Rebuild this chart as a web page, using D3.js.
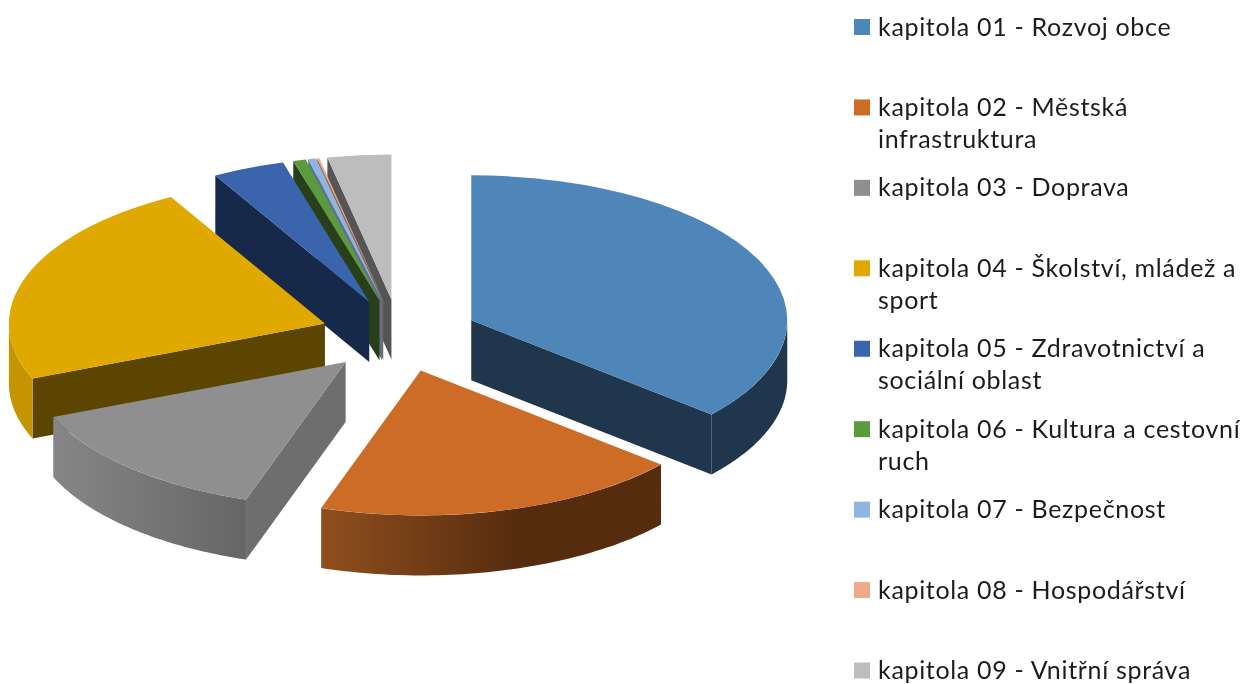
<!DOCTYPE html>
<html>
<head>
<meta charset="utf-8">
<script src="https://cdn.jsdelivr.net/npm/d3@7"></script>
<style>
  html, body { margin: 0; padding: 0; background: #fff; overflow: hidden; }
  svg { display: block; filter: blur(0.4px); }
  text { font-family: Lato, sans-serif; font-size: 25px; fill: #1c1c1c; letter-spacing: 0.68px; }
</style>
</head>
<body>
<svg id="chart" width="1243" height="684"></svg>
<script>
const categories = [
    ["kapitola 01 - Rozvoj obce"],
    ["kapitola 02 - Městská", "infrastruktura"],
    ["kapitola 03 - Doprava"],
    ["kapitola 04 - Školství, mládež a", "sport"],
    ["kapitola 05 - Zdravotnictví a", "sociální oblast"],
    ["kapitola 06 - Kultura a cestovní", "ruch"],
    ["kapitola 07 - Bezpečnost"],
    ["kapitola 08 - Hospodářství"],
    ["kapitola 09 - Vnitřní správa"]
];
const values = [36.25, 18.85, 13.7, 23.1, 3.7, 0.65, 0.4, 0.1, 3.25];

const topColors = ["#4e86ba", "#cd6c27", "#8f8f8f", "#dfa900", "#3a64ab", "#5b9b3e", "#8fb5e2", "#f2a98a", "#bdbdbd"];
const faceColors = ["#1f364d", "#562c0f", "#6e6e6e", "#5c4500", "#16294a", "#27401a", "#5a7390", "#8a5f4c", "#555555"];
// left and right shade of the outer wall
const wallLeft = ["#1f364d", "#8f4f1e", "#868686", "#c49500", "#16294a", "#27401a", "#5a7390", "#8a5f4c", "#555555"];
const wallRight = ["#1f364d", "#562c0f", "#666666", "#c49500", "#16294a", "#27401a", "#5a7390", "#8a5f4c", "#555555"];

// back to front
const drawOrder = [8, 7, 6, 5, 4, 3, 0, 2, 1];

const svg = d3.select("#chart");
const defs = svg.append("defs");

// Pie geometry
const CX = 399.5, CY = 335.5, RX = 316, RY = 145, DEPTH = 60, EXPLODE = 0.25;

const pie = d3.pie().sort(null).value(d => d);
const arcs = pie(values);

const px = (a, r) => RX * r * Math.sin(a);
const py = (a, r) => -RY * r * Math.cos(a);

const topArc = d3.arc().innerRadius(0).outerRadius(RX);
const line = d3.line();

const g = svg.append("g");

drawOrder.forEach(i => {
    const d = arcs[i];
    const mid = (d.startAngle + d.endAngle) / 2;
    const ax = CX + px(mid, EXPLODE);
    const ay = CY + py(mid, EXPLODE);
    const slice = g.append("g").attr("transform", `translate(${ax},${ay})`);

    const face = a => line([
        [0, 0],
        [px(a, 1), py(a, 1)],
        [px(a, 1), py(a, 1) + DEPTH],
        [0, DEPTH]
    ]) + "Z";

    // Radial side faces, only the ones turned toward the viewer
    if (Math.sin(d.startAngle) < 0) {
        slice.append("path").attr("d", face(d.startAngle)).attr("fill", faceColors[i]);
    }
    if (Math.sin(d.endAngle) > 0) {
        slice.append("path").attr("d", face(d.endAngle)).attr("fill", faceColors[i]);
    }

    // Outer wall, front half of the ellipse only
    const a0 = Math.max(d.startAngle, Math.PI / 2);
    const a1 = Math.min(d.endAngle, Math.PI * 1.5);
    if (a1 > a0) {
        const angles = d3.range(0, 61).map(k => a0 + (a1 - a0) * k / 60);
        const pts = angles.map(a => [px(a, 1), py(a, 1)])
            .concat(angles.slice().reverse().map(a => [px(a, 1), py(a, 1) + DEPTH]));

        const grad = defs.append("linearGradient").attr("id", "wall" + i)
            .attr("x1", 0).attr("x2", 1).attr("y1", 0).attr("y2", 0);
        grad.append("stop").attr("offset", 0).attr("stop-color", wallLeft[i]);
        // the orange wall stops darkening a bit past the middle
        grad.append("stop").attr("offset", i === 1 ? 0.58 : 1).attr("stop-color", wallRight[i]);
        slice.append("path").attr("d", line(pts) + "Z").attr("fill", `url(#wall${i})`);
    }

    // Top
    slice.append("path")
        .attr("transform", `scale(1,${RY / RX})`)
        .attr("d", topArc(d))
        .attr("fill", topColors[i]);
});

// Legend
const legendY = d3.scaleLinear().domain([0, categories.length - 1]).range([27, 670.5]);
const LINE_H = 32;
const legend = svg.append("g");
categories.forEach((lines, i) => {
    const y = legendY(i);
    legend.append("rect")
        .attr("x", 854).attr("y", y - 8)
        .attr("width", 16).attr("height", 16)
        .attr("fill", topColors[i]);
    lines.forEach((t, j) => {
        legend.append("text")
            .attr("x", 878).attr("y", y + 8.5 + j * LINE_H)
            .text(t);
    });
});
</script>
</body>
</html>
